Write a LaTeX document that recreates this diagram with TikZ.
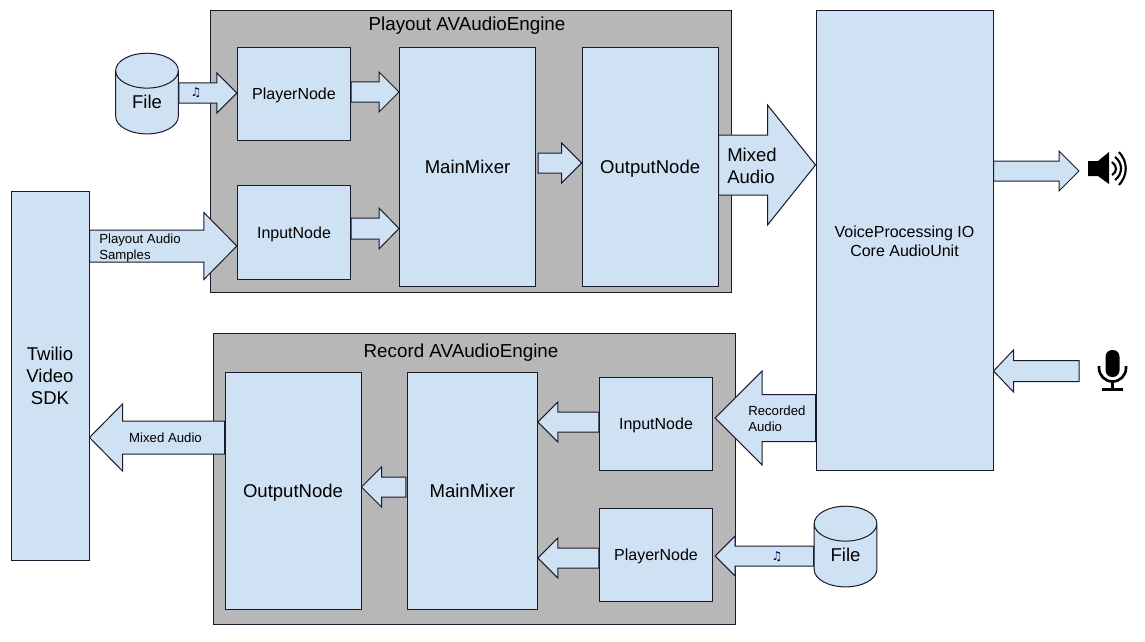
\documentclass[tikz,border=0pt]{standalone}
\usepackage{fontspec}
\setmainfont{Liberation Sans}
\newfontfamily\symbolfont{DejaVu Sans}
\usetikzlibrary{calc,positioning,shapes.geometric}
\definecolor{boxblue}{HTML}{CFE2F3}
\definecolor{enginegrey}{HTML}{B7B7B7}
\definecolor{lineblack}{HTML}{1A1A2A}
\tikzset{
    bigfont/.style={font=\fontsize{13.9pt}{16.5pt}\selectfont},
    midfont/.style={font=\fontsize{12pt}{14.2pt}\selectfont},
    smallfont/.style={font=\fontsize{9.9pt}{12pt}\selectfont},
    titlefont/.style={font=\fontsize{14.1pt}{16.5pt}\selectfont, text depth=0pt},
    notefont/.style={font=\symbolfont\fontsize{9pt}{10pt}\selectfont, text=blue!35!black},
    boxsize/.style 2 args={minimum width=#1, minimum height=#2},
    block/.style={rectangle, draw=lineblack, fill=boxblue, line width=0.75pt, inner sep=0pt, align=center, text depth=0pt},
    engine/.style={block, fill=enginegrey},
    store/.style={cylinder, shape border rotate=90, aspect=0.9, draw=lineblack, fill=boxblue, line width=0.75pt,
                  minimum width=47pt, minimum height=60.5pt, bigfont, text depth=7.5pt},
    armlabel/.style={align=left, anchor=west, inner sep=0pt},
    % shaft half height, head half height, head length
    fatarrow/.style n args={3}{draw=lineblack, fill=boxblue, line width=0.75pt, line join=miter,
        to path={let \p3=($(\tikztotarget)!#3*0.75pt!(\tikztostart)$) in
            ($(\tikztostart)+(0,#1)$) -- ($(\p3)+(0,#1)$) -- ($(\p3)+(0,#2)$) -- (\tikztotarget)
            -- ($(\p3)+(0,-#2)$) -- ($(\p3)+(0,-#1)$) -- ($(\tikztostart)+(0,-#1)$) -- cycle}},
    thinarrow/.style={fatarrow={10}{20}{20}},
}
\begin{document}
\begin{tikzpicture}[x=0.75pt, y=-0.75pt]
    \useasboundingbox (0,0) rectangle (1145,642);

    % Playout engine
    \node [engine, boxsize={390.75pt}{210.75pt}] (playout) at (470.5,151.5) {};
    \node [block, midfont, boxsize={85pt}{70pt}] (playerA) at (294,94) {PlayerNode};
    \node [block, midfont, boxsize={85pt}{70pt}, below=33pt of playerA] (inputA) {InputNode};
    \node [block, bigfont, boxsize={102pt}{179.25pt}, anchor=north west] (mixerA) at (399,47) {MainMixer};
    \node [block, bigfont, boxsize={102pt}{179.25pt}, right=34.25pt of mixerA] (outputA) {OutputNode};
    \node [titlefont] (playoutTitle) at (467,24) {Playout AVAudioEngine};

    % Record engine
    \node [engine, boxsize={391.5pt}{218.25pt}] (record) at (474,478.5) {};
    \node [block, bigfont, boxsize={102pt}{177.75pt}] (outputB) at (293,490.5) {OutputNode};
    \node [block, bigfont, boxsize={97.5pt}{177.75pt}, right=34pt of outputB] (mixerB) {MainMixer};
    \node [block, midfont, boxsize={85pt}{70pt}] (inputB) at (656,424) {InputNode};
    \node [block, midfont, boxsize={85pt}{70pt}] (playerB) at (656,555) {PlayerNode};
    \node [titlefont] (recordTitle) at (461,351) {Record AVAudioEngine};

    % Outside the engines
    \node [block, bigfont, text depth=-4.5pt, boxsize={58.5pt}{276.75pt}] (sdk) at (50,375.5) {Twilio\\Video\\SDK};
    \node [block, midfont, text depth=-3pt, boxsize={132.75pt}{345.25pt}] (voice) at (904.5,240.75) {VoiceProcessing IO\\Core AudioUnit};
    \node [store] (fileA) at (147,107) {File};
    \node [store] (fileB) at (845.5,560) {File};
    \coordinate (speakerIn) at (1079,171);
    \coordinate (micOut) at (1079,371);

    % Arrows, playout side
    \draw [thinarrow] (fileA.east |- 0,93) to (playerA.west |- 0,93);
    \draw [thinarrow] (playerA.east |- 0,92) to (mixerA.west |- 0,92);
    \draw [fatarrow={10.5}{20.5}{20}] (inputA.east |- 0,228.5) to (mixerA.west |- 0,228.5);
    \draw [thinarrow] ([xshift=1.5pt]mixerA.east |- 0,163) to (outputA.west |- 0,163);
    \draw [fatarrow={30}{60}{48}] (outputA.east |- 0,165) to (voice.west |- 0,165);
    \draw [fatarrow={16}{33.5}{33}] (sdk.east |- 0,246) to (inputA.west |- 0,246);
    \draw [thinarrow] (voice.east |- 0,171) to (speakerIn);

    % Arrows, record side
    \draw [fatarrow={10.5}{21}{20}] (micOut) to (voice.east |- 0,371);
    \draw [fatarrow={23.5}{47}{47}] (voice.west |- 0,418) to ([xshift=1.5pt]inputB.east |- 0,418);
    \draw [thinarrow] (inputB.west |- 0,422) to (mixerB.east |- 0,422);
    \draw [thinarrow] (playerB.west |- 0,558) to (mixerB.east |- 0,558);
    \draw [thinarrow] ([xshift=-0.75pt]mixerB.west |- 0,487) to (outputB.east |- 0,487);
    \draw [fatarrow={16.5}{33.5}{33}] (outputB.west |- 0,437.5) to (sdk.east |- 0,437.5);
    \draw [thinarrow] (fileB.west |- 0,556) to ([xshift=1.5pt]playerB.east |- 0,556);

    % Arrow labels
    \node [bigfont, armlabel] (mixedUp) at (727,166) {Mixed\\Audio};
    \node [smallfont, armlabel] (samples) at (99,248) {Playout Audio\\Samples};
    \node [smallfont, armlabel] (recorded) at (748,419) {Recorded\\Audio};
    \node [smallfont] (mixedDown) at (165.5,438) {Mixed Audio};
    \node [notefont] (noteA) at (196,93) {♫};
    \node [notefont] (noteB) at (777,557) {♫};

    % Speaker icon
    \fill (1088,161) -- (1098,161) -- (1109,152) -- (1109,184) -- (1098,176) -- (1088,176) -- cycle;
    \draw [line width=1.6pt] (1112,162) .. controls (1117.3,166) and (1117.3,172) .. (1112,175);
    \draw [line width=1.6pt] (1115,157) .. controls (1123,163) and (1123,174) .. (1115,180);
    \draw [line width=1.6pt] (1119,152) .. controls (1128,162) and (1128,175) .. (1119,185);

    % Microphone icon
    \fill [rounded corners=5pt] (1105.5,350) rectangle (1119.5,377);
    \draw [line width=2pt] (1099,366) -- (1099,368) arc (180:0:13.5) -- (1126,366);
    \draw [line width=2pt] (1112.5,381.5) -- (1112.5,389.5);
    \draw [line width=2pt] (1102,389.5) -- (1123,389.5);
\end{tikzpicture}
\end{document}
